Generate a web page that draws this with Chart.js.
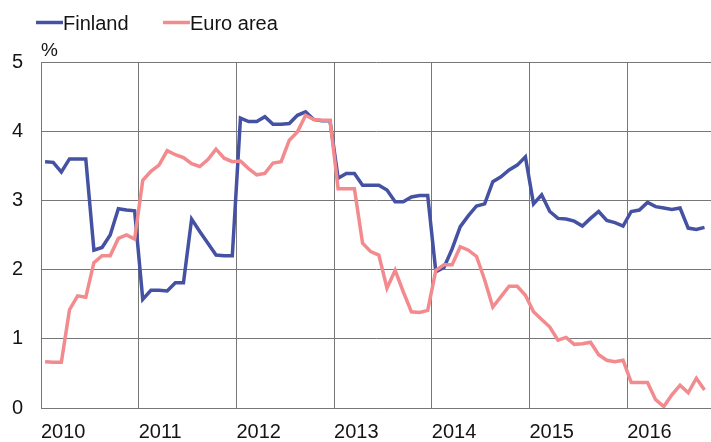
<!DOCTYPE html>
<html>
<head>
<meta charset="utf-8">
<script src="https://cdn.jsdelivr.net/npm/chart.js@4/dist/chart.umd.min.js"></script>
<style>
  html, body { margin: 0; padding: 0; background: #fff; }
  #wrap { position: relative; width: 711px; height: 442px; }
</style>
</head>
<body>
<div id="wrap"><canvas id="chart"></canvas></div>
<script>
// monthly values, Jan 2010 .. Oct 2016
const years = ['2010', '2011', '2012', '2013', '2014', '2015', '2016'];
const yTicks = [0, 1, 2, 3, 4, 5];

const finland = [
  3.56, 3.55, 3.41, 3.60, 3.60, 3.60, 2.28, 2.32, 2.50, 2.88, 2.86, 2.85,
  1.57, 1.70, 1.70, 1.69, 1.81, 1.81, 2.73, 2.55, 2.38, 2.21, 2.20, 2.20,
  4.19, 4.14, 4.14, 4.21, 4.10, 4.10, 4.11, 4.23, 4.28, 4.17, 4.15, 4.15,
  3.32, 3.39, 3.39, 3.22, 3.22, 3.22, 3.15, 2.98, 2.98, 3.05, 3.07, 3.07,
  1.97, 2.03, 2.30, 2.62, 2.78, 2.92, 2.95, 3.27, 3.34, 3.44, 3.51, 3.63,
  2.95, 3.08, 2.84, 2.74, 2.73, 2.70, 2.63, 2.74, 2.84, 2.71, 2.68, 2.63,
  2.84, 2.86, 2.97, 2.91, 2.89, 2.87, 2.89, 2.60, 2.58, 2.61
];

const euroArea = [
  0.67, 0.66, 0.66, 1.42, 1.62, 1.60, 2.10, 2.20, 2.20, 2.45, 2.50, 2.44,
  3.29, 3.42, 3.51, 3.72, 3.66, 3.62, 3.53, 3.49, 3.59, 3.74, 3.61, 3.56,
  3.57, 3.46, 3.37, 3.39, 3.54, 3.56, 3.87, 3.99, 4.23, 4.17, 4.16, 4.16,
  3.17, 3.17, 3.17, 2.38, 2.26, 2.21, 1.73, 1.99, 1.68, 1.39, 1.38, 1.41,
  1.99, 2.07, 2.07, 2.33, 2.28, 2.19, 1.85, 1.46, 1.61, 1.76, 1.76, 1.63,
  1.39, 1.28, 1.17, 0.98, 1.02, 0.92, 0.93, 0.95, 0.77, 0.69, 0.67, 0.69,
  0.37, 0.37, 0.37, 0.12, 0.02, 0.19, 0.33, 0.22, 0.43, 0.26
];

const FONT = '"Liberation Sans", Arial, sans-serif';
const BLUE = '#4551a3';
const PINK = '#f28a8e';
const GRID = '#777777';
const TEXT = '#141414';

const toPoints = arr => arr.map((v, i) => ({ x: i, y: v }));

// legend + "%" unit label, drawn by hand so the line sits right next to the text
const legendPlugin = {
  id: 'legendAndUnit',
  afterDraw(chart) {
    const ctx = chart.ctx;
    ctx.save();
    ctx.font = '20px ' + FONT;
    ctx.fillStyle = TEXT;
    ctx.textBaseline = 'alphabetic';
    ctx.lineWidth = 3.5;
    const items = [
      { label: 'Finland', color: BLUE, x: 36 },
      { label: 'Euro area', color: PINK, x: 163 },
    ];
    items.forEach(it => {
      ctx.strokeStyle = it.color;
      ctx.beginPath();
      ctx.moveTo(it.x, 22.5);
      ctx.lineTo(it.x + 27, 22.5);
      ctx.stroke();
      ctx.fillText(it.label, it.x + 27, 30);
    });
    ctx.font = '19px ' + FONT;
    ctx.fillText('%', 41, 56);
    ctx.restore();
  },
};

new Chart(document.getElementById('chart'), {
  type: 'line',
  data: {
    datasets: [
      {
        label: 'Euro area',
        data: toPoints(euroArea),
        borderColor: PINK,
        borderWidth: 3.5,
        pointRadius: 0,
        tension: 0,
        order: 0,
      },
      {
        label: 'Finland',
        data: toPoints(finland),
        borderColor: BLUE,
        borderWidth: 3.5,
        pointRadius: 0,
        tension: 0,
        order: 1,
      },
    ],
  },
  options: {
    responsive: true,
    maintainAspectRatio: false,
    animation: false,
    layout: { padding: { top: 62, left: 0, right: 0, bottom: 0 } },
    plugins: {
      legend: { display: false },
      tooltip: { enabled: false },
    },
    scales: {
      x: {
        type: 'linear',
        min: -0.5,
        max: 81.8,
        afterBuildTicks: scale => {
          scale.ticks = years.map((y, i) => ({ value: -0.5 + 12 * i }));
        },
        afterFit: scale => { scale.height = 34; },
        ticks: {
          autoSkip: false,
          maxRotation: 0,
          align: 'start',
          padding: 12,
          color: TEXT,
          font: { family: FONT, size: 20 },
          callback: (v, i) => years[i],
        },
        grid: { color: GRID, lineWidth: 1, drawTicks: false },
        border: { color: GRID, width: 1 },
      },
      y: {
        min: 0,
        max: 5,
        afterBuildTicks: scale => {
          scale.ticks = yTicks.map(v => ({ value: v }));
        },
        afterFit: scale => { scale.width = 41; },
        ticks: {
          padding: 18,
          color: TEXT,
          font: { family: FONT, size: 20 },
        },
        grid: { color: GRID, lineWidth: 1, drawTicks: false },
        border: { color: GRID, width: 1 },
      },
    },
  },
  plugins: [legendPlugin],
});
</script>
</body>
</html>
